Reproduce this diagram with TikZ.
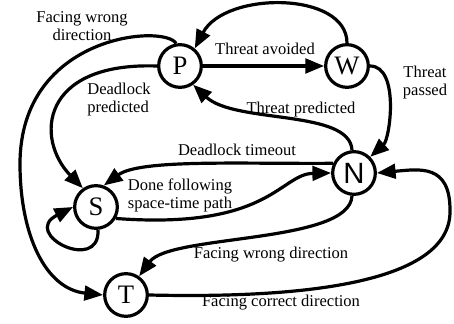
\documentclass[tikz,border=0pt]{standalone}
\usepackage{fontspec}
\setmainfont{Liberation Serif}
\newfontfamily\sansN{Liberation Sans}
\usetikzlibrary{arrows.meta,calc}

\tikzset{
  state/.style={draw, circle, line width=2.4pt, minimum size=32pt, inner sep=0pt, font=\fontsize{20}{20}\selectfont},
  trans/.style={line width=2.4pt, -{Triangle[length=14pt,width=11pt]}},
  lbl/.style={font=\fontsize{12.4}{13.5}\selectfont, align=center, inner sep=0pt}
}

\begin{document}
\begin{tikzpicture}[x=0.75pt,y=0.75pt]
\useasboundingbox (0,0) rectangle (454,324);

\node[state] (P) at (180,258) {P};
\node[state] (W) at (347,258) {W};
\node[state, font=\sansN\fontsize{22}{22}\selectfont] (N) at (354,151) {N};
\node[state] (S) at (96,117) {S};
\node[state] (T) at (126,29) {T};

\draw[trans] (P) -- (W);
\draw[trans] (W.90) .. controls (347,333) and (225,333) .. (P.50);
\draw[trans] (W.0) .. controls (400,258) and (390,185) .. (N.45);
\draw[trans] (N.95) .. controls (350,215) and (235,200) .. (P.-55);
\draw[trans] (N.155) .. controls (240,160) and (140,165) .. (S.70);
\draw[trans] (S.-30) .. controls (270,94) and (280,150) .. (N.180);
\draw[trans] (S.-85) .. controls (100,50) and (20,90) .. (S.180);
\draw[trans] (P.180) .. controls (40,262) and (35,185) .. (S.125);
\coordinate (wl) at (20,160);
\draw[trans] (P.100) .. controls (165,300) and (20,290) .. (wl) .. controls (20,90) and (45,35) .. (T.180);
\draw[trans] (N.-95) .. controls (350,80) and (170,90) .. (T.55);
\coordinate (wr) at (450,114);
\draw[trans] (T.0) .. controls (320,25) and (452,45) .. (wr) .. controls (450,160) and (420,155) .. (N.0);

\node[lbl] (lPW) at (265,275) {Threat avoided};
\node[lbl] (lWN) at (425,241) {Threat\\passed};
\node[lbl] (lNP) at (301,214) {Threat predicted};
\node[lbl] (lNS) at (237,174) {Deadlock timeout};
\node[lbl, align=left] (lSN) at (180,129) {Done following\\space-time path};
\node[lbl, align=left] (lPS) at (119,224) {Deadlock\\predicted};
\node[lbl] (lPT) at (82,298) {Facing wrong\\direction};
\node[lbl] (lNT) at (271,69) {Facing wrong direction};
\node[lbl] (lTN) at (281,21) {Facing correct direction};

\end{tikzpicture}
\end{document}
